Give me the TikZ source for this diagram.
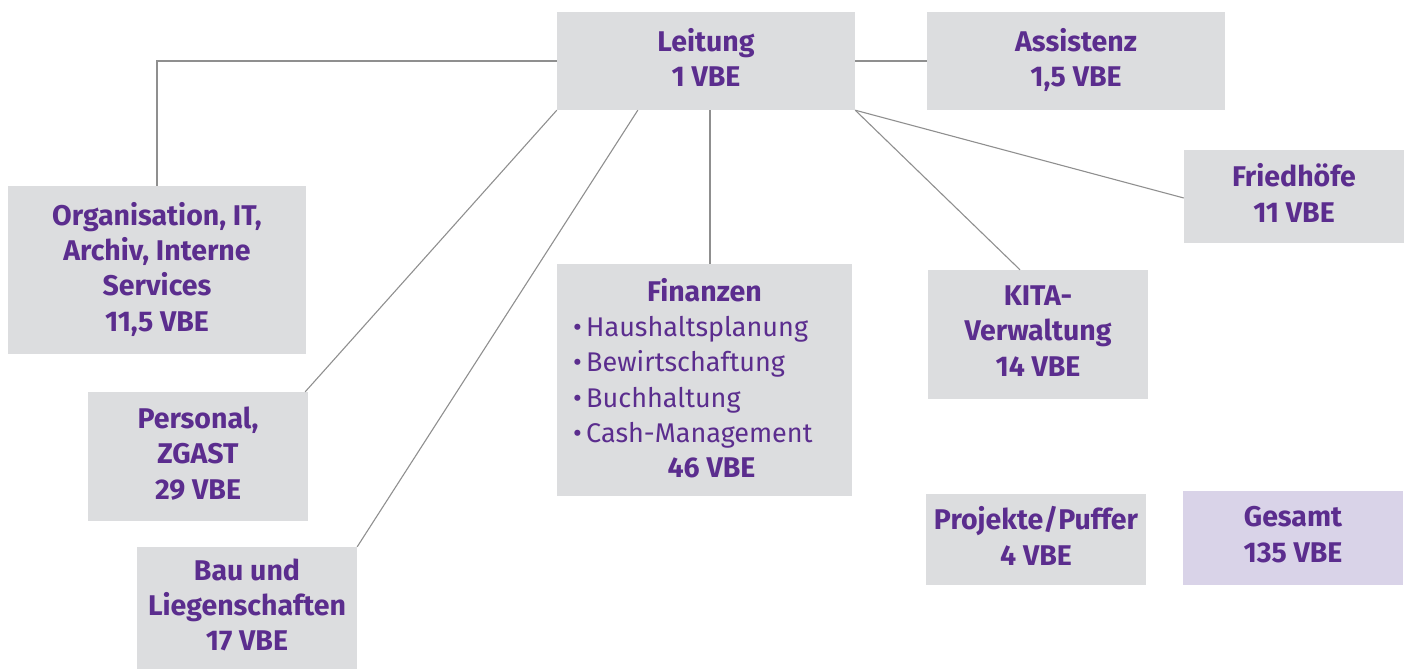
\documentclass[tikz,border=0pt]{standalone}
\usepackage{fontspec}
\setmainfont{Fira Sans}
\usetikzlibrary{calc}
\definecolor{boxgray}{HTML}{DCDDDF}
\definecolor{boxlila}{HTML}{D9D3E8}
\definecolor{txtpurple}{HTML}{5B2D8E}
\definecolor{linegray}{HTML}{8F8F8F}
\tikzset{
  orgbox/.style={fill=boxgray, inner sep=0pt, align=center, text=txtpurple,
    text depth=7pt, font=\fontsize{28.5}{35.3}\selectfont\bfseries},
  conn/.style={draw=linegray, line width=1.1pt},
}
\newcommand{\bulletitem}[1]{{\mdseries\fontsize{27}{35.3}\selectfont •\,#1}}
\begin{document}
\begin{tikzpicture}[x=1pt,y=-1pt]
\useasboundingbox (0,0) rectangle (1408,669);
\node[orgbox, minimum width=298pt, minimum height=98pt] (lei) at (706,61) {Leitung\\1 VBE};
\node[orgbox, minimum width=298pt, minimum height=98pt] (asi) at (1076,61) {Assistenz\\1,5 VBE};
\node[orgbox, minimum width=220pt, minimum height=93pt] (fri) at (1294,196.5) {Friedhöfe\\11 VBE};
\node[orgbox, minimum width=298pt, minimum height=168pt] (org) at (157,270) {Organisation, IT,\\Archiv, Interne\\Services\\11,5 VBE};
\node[orgbox, minimum width=295pt, minimum height=232pt, align=left, text depth=4pt] (fin) at (704.5,380) {\makebox[263pt]{Finanzen}\\
  \bulletitem{Haushaltsplanung}\\
  \bulletitem{Bewirtschaftung}\\
  \bulletitem{Buchhaltung}\\
  \bulletitem{Cash-Management}\\
  \makebox[263pt]{\hspace*{14pt}46 VBE}};
\node[orgbox, minimum width=220pt, minimum height=129pt] (kita) at (1038,334.5) {KITA-\\Verwaltung\\14 VBE};
\node[orgbox, minimum width=220pt, minimum height=129pt] (per) at (198,456.5) {Personal,\\ZGAST\\29 VBE};
\node[orgbox, minimum width=220pt, minimum height=122pt] (bau) at (247,608) {Bau und\\Liegenschaften\\17 VBE};
\node[orgbox, minimum width=220pt, minimum height=91pt] (pro) at (1036,539.5) {Projekte/Puffer\\4 VBE};
\node[orgbox, fill=boxlila, minimum width=220pt, minimum height=94pt] (ges) at (1293,538) {Gesamt\\135 VBE};
\coordinate (leibau) at ($(lei.south west)+(81,0)$);
\coordinate (kitatop) at ($(kita.north)+(-18,0)$);
\draw[conn] (lei.west) -| (org.north);
\draw[conn] (lei.east) -- (asi.west);
\draw[conn] (lei.south west) -- ($(per.north east)+(-3,0)$);
\draw[conn] (leibau) -- (bau.north east);
\draw[conn] ($(lei.south)+(4,0)$) -- ($(fin.north)+(5.5,0)$);
\draw[conn] (lei.south east) -- ($(fri.west)+(0,1.5)$);
\draw[conn] (lei.south east) -- (kitatop);
\end{tikzpicture}
\end{document}
